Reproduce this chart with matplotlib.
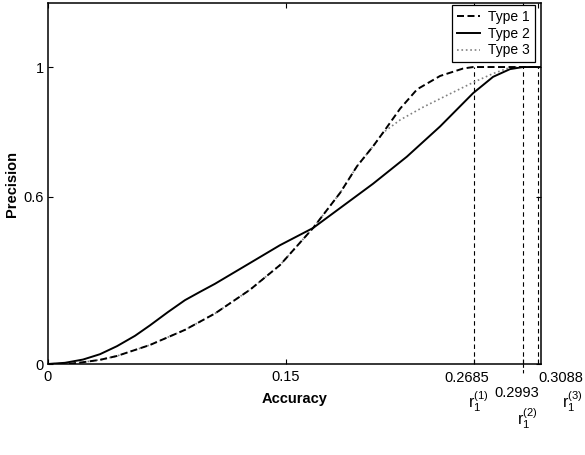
import matplotlib
matplotlib.use("Agg")
from matplotlib import pyplot as plt

plt.rcParams['font.family'] = ['Liberation Sans', 'DejaVu Sans']
plt.rcParams['mathtext.fontset'] = 'custom'
plt.rcParams['mathtext.rm'] = 'Liberation Sans'

# values (accuracy, precision)
type1_x = [0, 0.0139, 0.0221, 0.0328, 0.0435, 0.0643, 0.0864, 0.1053, 0.1274, 0.1463,
           0.1672, 0.1842, 0.1949, 0.2050, 0.2113, 0.2221, 0.2328, 0.2473, 0.2618, 0.2681, 0.311]
type1_y = [0, 0.001, 0.006, 0.014, 0.027, 0.064, 0.115, 0.17, 0.25, 0.333,
           0.458, 0.576, 0.666, 0.733, 0.779, 0.86, 0.925, 0.97, 0.995, 1.0, 1.0]

type2_x = [0, 0.0107, 0.0221, 0.0328, 0.0435, 0.0549, 0.0643, 0.0757, 0.0864, 0.0959, 0.1053,
           0.1274, 0.1463, 0.1672, 0.1842, 0.2050, 0.2263, 0.2473, 0.2681, 0.2807, 0.2914, 0.2996, 0.311]
type2_y = [0, 0.004, 0.015, 0.033, 0.06, 0.095, 0.13, 0.175, 0.215, 0.243, 0.27,
           0.34, 0.40, 0.458, 0.525, 0.607, 0.698, 0.80, 0.912, 0.967, 0.993, 1.0, 1.0]

type3_x = [0, 0.0139, 0.0221, 0.0328, 0.0435, 0.0643, 0.0864, 0.1053, 0.1274, 0.1463,
           0.1672, 0.1842, 0.1949, 0.2050, 0.2113, 0.2221, 0.2366, 0.2536, 0.2681, 0.2807, 0.2895, 0.2958, 0.311]
type3_y = [0, 0.001, 0.006, 0.014, 0.027, 0.064, 0.115, 0.17, 0.25, 0.333,
           0.458, 0.576, 0.666, 0.733, 0.779, 0.822, 0.865, 0.91, 0.948, 0.978, 0.995, 1.0, 1.0]

r1_values = [0.2685, 0.2993, 0.3088]
r1_names = [r'$\mathregular{r_1^{(1)}}$', r'$\mathregular{r_1^{(2)}}$', r'$\mathregular{r_1^{(3)}}$']
ytick_vals = [0, 0.5625, 1]
ytick_text = ['0', '0.6', '1']

fig = plt.figure(figsize=(5.85, 4.55), dpi=100)
ax = fig.add_axes([0.082, 0.2, 0.843, 0.793])

ax.plot(type3_x, type3_y, color='0.5', ls=':', lw=1.2, label='Type 3', zorder=2)
ax.plot(type1_x, type1_y, color='black', ls=(0, (3.6, 1.8)), lw=1.4, label='Type 1', zorder=3)
ax.plot(type2_x, type2_y, color='black', ls='-', lw=1.4, label='Type 2', zorder=3)

for r in r1_values:
    ax.plot([r, r], [0, 1], color='black', ls=(0, (4, 3)), lw=0.8, zorder=1)
# little leader below the axis for the middle label
ax.plot([r1_values[1]] * 2, [0, -0.035], color='black', ls=(0, (3, 2)), lw=0.8, clip_on=False)

ax.set_xlim(0, 0.311)
ax.set_ylim(0, 1.215)
ax.set_xticks([0, 0.15] + r1_values)
ax.set_xticklabels(['0', '0.15', '', '', ''])
ax.set_yticks(ytick_vals)
ax.set_yticklabels(ytick_text)
ax.tick_params(direction='in', length=3.5, width=0.8, labelsize=10.5, top=True, right=True)
ax.tick_params(axis='x', pad=4)
ax.tick_params(axis='y', pad=3)
for s in ax.spines.values():
    s.set_linewidth(1.1)

# value and name labels under the dashed markers (offsets in points)
num_off = [(-5, -10), (-4, -21), (17, -10)]
name_off = [(3, -27), (3, -39), (25, -27)]
for r, nm, (dx, dy), (nx, ny) in zip(r1_values, r1_names, num_off, name_off):
    ax.annotate(f'{r:.4f}', xy=(r, 0), xycoords=('data', 'axes fraction'), xytext=(dx, dy),
                textcoords='offset points', ha='center', va='center', fontsize=10.5,
                annotation_clip=False)
    ax.annotate(nm, xy=(r, 0), xycoords=('data', 'axes fraction'), xytext=(nx, ny),
                textcoords='offset points', ha='center', va='center', fontsize=11.5,
                annotation_clip=False)

ax.set_xlabel('Accuracy', fontweight='bold', fontsize=10.5, labelpad=6)
ax.set_ylabel('Precision', fontweight='bold', fontsize=10.5, labelpad=3)

handles, labels = ax.get_legend_handles_labels()
order = [1, 2, 0]
leg = ax.legend([handles[i] for i in order], [labels[i] for i in order],
                loc='upper right', bbox_to_anchor=(0.988, 0.995), borderaxespad=0,
                fontsize=10, handlelength=1.7, handletextpad=0.6, labelspacing=0.2,
                borderpad=0.35, fancybox=False, framealpha=1, edgecolor='black')
leg.get_frame().set_linewidth(0.9)

fig.savefig('out.png', dpi=100)
